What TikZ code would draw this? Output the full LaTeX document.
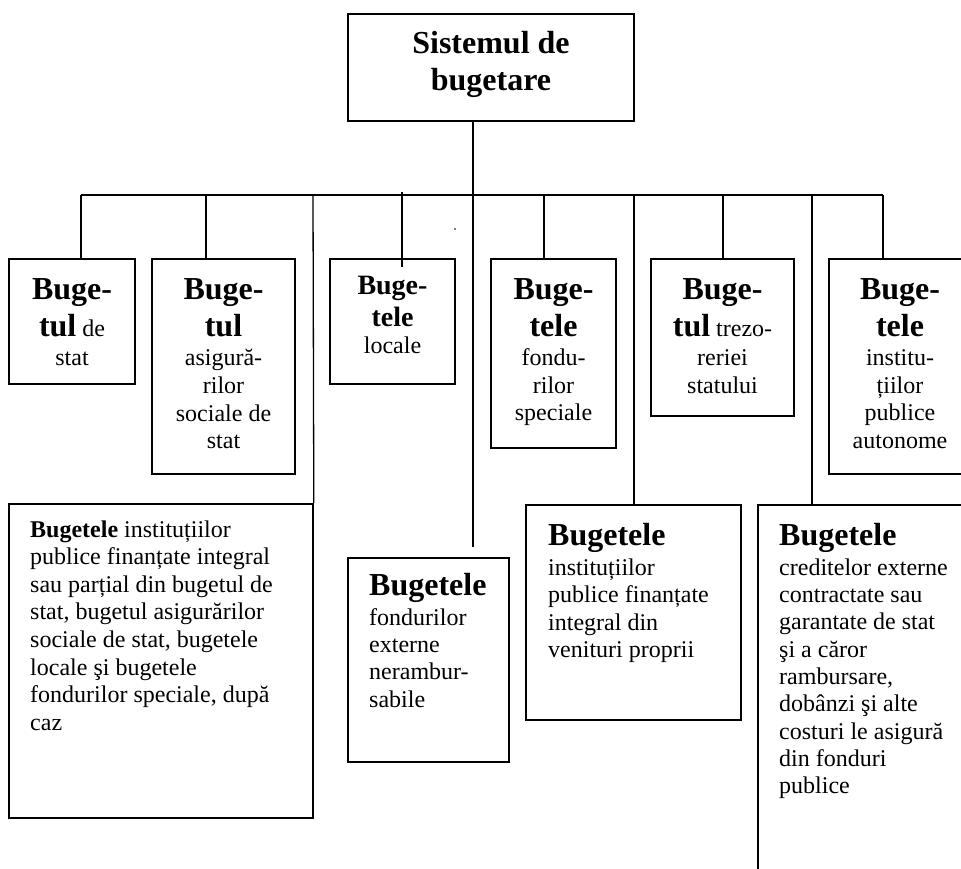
\documentclass[tikz,border=0pt]{standalone}
\usepackage{fontspec}
\setmainfont{Liberation Serif}
\begin{document}
\begin{tikzpicture}[x=1pt,y=-1pt,
  box/.style={draw, line width=1.6pt, inner sep=0pt},
  con/.style={line width=1.3pt},
  busline/.style={line width=1.8pt},
  big/.style={font=\fontsize{32}{37}\selectfont\bfseries, inner sep=0pt, anchor=base},
  mid/.style={font=\fontsize{28}{32}\selectfont\bfseries, inner sep=0pt, anchor=base},
  txt/.style={font=\fontsize{24}{28}\selectfont, inner sep=0pt, anchor=base}]
\useasboundingbox (0,0) rectangle (961,869);
\clip (0,0) rectangle (961,869);
\fill[white] (0,0) rectangle (961,869);

% boxes
\node[box, minimum width=286pt, minimum height=107pt] (top) at (491,67.5) {};
\node[box, minimum width=126pt, minimum height=125pt] (b1) at (72,321.5) {};
\node[box, minimum width=143pt, minimum height=215pt] (b2) at (223.5,366.5) {};
\node[box, minimum width=125pt, minimum height=125pt] (b3) at (392.5,321.5) {};
\node[box, minimum width=125pt, minimum height=189pt] (b4) at (553.5,353.5) {};
\node[box, minimum width=143pt, minimum height=157pt] (b5) at (722.5,337.5) {};
\node[box, minimum width=142pt, minimum height=215pt] (b6) at (900,366.5) {};
\node[box, minimum width=304pt, minimum height=314pt] (b7) at (161,661) {};
\node[box, minimum width=161pt, minimum height=204pt] (b8) at (428.5,660) {};
\node[box, minimum width=215pt, minimum height=215pt] (b9) at (633.5,612.5) {};
\node[box, minimum width=242pt, minimum height=445pt] (b10) at (879,727.5) {};

% connectors
\coordinate (hub) at (473,195);
\coordinate (busL) at (81,195);
\coordinate (busR) at (883,195);
\coordinate (d2) at (206,195);
\coordinate (d7) at (313,195);
\coordinate (d3) at (402,192);
\coordinate (e3) at (402,267);
\coordinate (e8) at (473,547);
\coordinate (d4) at (544,195);
\coordinate (d9) at (634,195);
\coordinate (d5) at (723,195);
\coordinate (d10) at (812,195);
\draw[busline] (busL) -- (busR);
\draw[con] (top.south -| hub) -- (e8);
\draw[con] (busL) -- (b1.north -| busL);
\draw[con] (d2) -- (d2 |- b2.north);
\draw[con] (d7) -- (b7.north east);
\draw[con] (d3) -- (e3);
\draw[con] (d4) -- (d4 |- b4.north);
\draw[con] (d9) -- (d9 |- b9.north);
\draw[con] (d5) -- (d5 |- b5.north);
\draw[con] (d10) -- (d10 |- b10.north);
\draw[con] (busR) -- (busR |- b6.north);
\fill (455,229) circle (0.8pt);

% top text
\node[big] (s1) at (491,54) {Sistemul de};
\node[big] (s2) at (491,91) {bugetare};

% box 1
\node[big] (t1a) at (72,299) {Buge-};
\node[txt] (t1b) at (72,336) {{\fontsize{32}{37}\selectfont\bfseries tul} de};
\node[txt] (t1c) at (72,365) {stat};

% box 2
\node[big] (t2a) at (223.5,299) {Buge-};
\node[big] (t2b) at (223.5,336) {tul};
\node[txt] (t2c) at (223.5,365) {asigură-};
\node[txt] (t2d) at (223.5,393) {rilor};
\node[txt] (t2e) at (223.5,421) {sociale de};
\node[txt] (t2f) at (223.5,448) {stat};

% box 3
\node[mid] (t3a) at (392.5,294) {Buge-};
\node[mid] (t3b) at (392.5,326) {tele};
\node[txt] (t3c) at (392.5,353) {locale};

% box 4
\node[big] (t4a) at (553.5,299) {Buge-};
\node[big] (t4b) at (553.5,336) {tele};
\node[txt] (t4c) at (553.5,365) {fondu-};
\node[txt] (t4d) at (553.5,393) {rilor};
\node[txt] (t4e) at (553.5,420) {speciale};

% box 5
\node[big] (t5a) at (722.5,299) {Buge-};
\node[txt] (t5b) at (722.5,336) {{\fontsize{32}{37}\selectfont\bfseries tul} trezo-};
\node[txt] (t5c) at (722.5,365) {reriei};
\node[txt] (t5d) at (722.5,393) {statului};

% box 6
\node[big] (t6a) at (900,299) {Buge-};
\node[big] (t6b) at (900,336) {tele};
\node[txt] (t6c) at (900,365) {institu-};
\node[txt] (t6d) at (900,393) {țiilor};
\node[txt] (t6e) at (900,420) {publice};
\node[txt] (t6f) at (900,448) {autonome};

% box 7
\foreach \t [count=\i from 0] in {{\textbf{Bugetele} instituțiilor},{publice finanțate integral},{sau parțial din bugetul de},{stat, bugetul asigurărilor},{sociale de stat, bugetele},{locale şi bugetele},{fondurilor speciale, după},{caz}}
  \node[txt, anchor=base west] (t7\i) at (30,{537.3+\i*27.55}) {\t};

% box 8
\node[big, anchor=base west] (t8h) at (369,595) {Bugetele};
\foreach \t [count=\i from 0] in {fondurilor,externe,nerambur-,sabile}
  \node[txt, anchor=base west] (t8\i) at (369,{625+\i*27.4}) {\t};

% box 9
\node[big, anchor=base west] (t9h) at (548,545) {Bugetele};
\foreach \t [count=\i from 0] in {instituțiilor,publice finanțate,integral din,venituri proprii}
  \node[txt, anchor=base west] (t9\i) at (548,{575+\i*27.6}) {\t};

% box 10
\node[big, anchor=base west] (t10h) at (779,545) {Bugetele};
\foreach \t [count=\i from 0] in {creditelor externe,contractate sau,garantate de stat,şi a căror,{rambursare,},dobânzi şi alte,costuri le asigură,din fonduri,publice}
  \node[txt, anchor=base west] (t10\i) at (779,{575+\i*27.35}) {\t};
\end{tikzpicture}
\end{document}
